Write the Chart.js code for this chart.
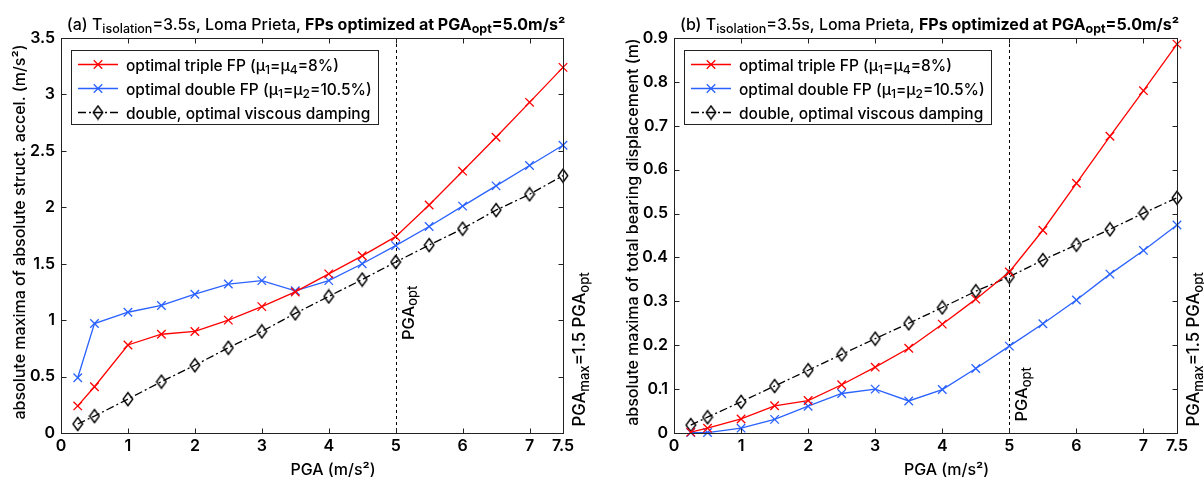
<!DOCTYPE html>
<html>
<head>
<meta charset="utf-8">
<script src="https://cdn.jsdelivr.net/npm/chart.js@4.4.1/dist/chart.umd.min.js"></script>
<style>
  html, body { margin: 0; padding: 0; background: #fff; }
  #wrap { position: relative; width: 1204px; height: 479px; }
  #left { position: absolute; left: 0; top: 0; }
  #right { position: absolute; left: 600px; top: 0; }
</style>
</head>
<body>
<div id="wrap">
  <canvas id="left" width="600" height="479"></canvas>
  <canvas id="right" width="604" height="479"></canvas>
</div>
<script>
// datos
const pga = [0.25, 0.5, 1, 1.5, 2, 2.5, 3, 3.5, 4, 4.5, 5, 5.5, 6, 6.5, 7, 7.5];

const accTriple  = [0.24, 0.41, 0.78, 0.875, 0.90, 1.00, 1.12, 1.25, 1.41, 1.57, 1.74, 2.02, 2.32, 2.62, 2.93, 3.24];
const accDouble  = [0.49, 0.97, 1.07, 1.13, 1.23, 1.32, 1.35, 1.26, 1.35, 1.50, 1.66, 1.83, 2.01, 2.19, 2.37, 2.55];
const accViscous = [0.08, 0.15, 0.30, 0.455, 0.60, 0.755, 0.90, 1.06, 1.21, 1.36, 1.515, 1.665, 1.81, 1.975, 2.115, 2.28];

const dispTriple  = [0.002, 0.011, 0.032, 0.062, 0.074, 0.110, 0.150, 0.193, 0.248, 0.305, 0.367, 0.462, 0.569, 0.676, 0.780, 0.886];
const dispDouble  = [0.001, 0.001, 0.011, 0.031, 0.061, 0.090, 0.100, 0.073, 0.099, 0.147, 0.198, 0.249, 0.303, 0.362, 0.416, 0.474];
const dispViscous = [0.018, 0.036, 0.071, 0.107, 0.143, 0.179, 0.215, 0.250, 0.286, 0.323, 0.356, 0.394, 0.429, 0.464, 0.501, 0.536];

const xTicks    = [0, 1, 2, 3, 4, 5, 6, 7, 7.5];
const accTicks  = [0, 0.5, 1, 1.5, 2, 2.5, 3, 3.5];
const dispTicks = [0, 0.1, 0.2, 0.3, 0.4, 0.5, 0.6, 0.7, 0.8, 0.9];

const PGA_OPT = 5;

const FONT = 'Inter, "Open Sans", sans-serif';
const W_TXT = '500 ';
const RED = '#ff0000';
const BLUE = '#2a62ff';
const FRAME = '#222222';

// marcador rombo (mas alto que ancho, como en matlab)
function makeDiamond() {
    const c = document.createElement('canvas');
    c.width = 12; c.height = 16;
    const g = c.getContext('2d');
    g.strokeStyle = '#000';
    g.lineWidth = 1.4;
    g.beginPath();
    g.moveTo(6, 1.5); g.lineTo(10.8, 8); g.lineTo(6, 14.5); g.lineTo(1.2, 8);
    g.closePath();
    g.stroke();
    return c;
}
const diamond = makeDiamond();

// texto con subindices / negrita
function drawRich(ctx, parts, x, y, size, measureOnly) {
    let cx = x;
    parts.forEach(p => {
        const small = p.sub || p.sup;
        const s = small ? size * 0.78 : size;
        ctx.font = (p.b ? 'bold ' : W_TXT) + s + 'px ' + FONT;
        const dy = p.sub ? size * 0.22 : (p.sup ? -size * 0.38 : 0);
        if (!measureOnly) ctx.fillText(p.t, cx, y + dy);
        cx += ctx.measureText(p.t).width;
    });
    return cx - x;
}

const legendParts = [
    [{t: 'optimal triple FP (\u03bc'}, {t: '1', sub: true}, {t: '=\u03bc'}, {t: '4', sub: true}, {t: '=8%)'}],
    [{t: 'optimal double FP (\u03bc'}, {t: '1', sub: true}, {t: '=\u03bc'}, {t: '2', sub: true}, {t: '=10.5%)'}],
    [{t: 'double, optimal viscous damping'}]
];

const decor = {
    id: 'decor',
    beforeDatasetsDraw(chart, args, o) {
        const {ctx, chartArea: a, scales: {x}} = chart;
        const px = Math.round(x.getPixelForValue(PGA_OPT)) + 0.5;
        ctx.save();
        ctx.strokeStyle = '#000';
        ctx.lineWidth = 1;
        ctx.setLineDash([3, 3]);
        ctx.beginPath();
        ctx.moveTo(px, a.top);
        ctx.lineTo(px, a.bottom);
        ctx.stroke();
        ctx.restore();
    },
    afterDraw(chart, args, o) {
        const {ctx, chartArea: a, scales: {x, y}} = chart;
        ctx.save();

        // caja y marcas hacia dentro
        ctx.strokeStyle = FRAME;
        ctx.lineWidth = 1;
        ctx.setLineDash([]);
        const L = Math.round(a.left) + 0.5, R = Math.round(a.right) + 0.5;
        const T = Math.round(a.top) + 0.5, B = Math.round(a.bottom) + 0.5;
        ctx.strokeRect(L, T, R - L, B - T);
        ctx.beginPath();
        x.ticks.forEach(t => {
            const px = Math.round(x.getPixelForValue(t.value)) + 0.5;
            ctx.moveTo(px, B); ctx.lineTo(px, B - 5);
            ctx.moveTo(px, T); ctx.lineTo(px, T + 5);
        });
        y.ticks.forEach(t => {
            const py = Math.round(y.getPixelForValue(t.value)) + 0.5;
            ctx.moveTo(L, py); ctx.lineTo(L + 5, py);
            ctx.moveTo(R, py); ctx.lineTo(R - 5, py);
        });
        ctx.stroke();

        ctx.fillStyle = '#000';
        ctx.textBaseline = 'alphabetic';
        ctx.textAlign = 'left';

        // titulo
        const tw = drawRich(ctx, o.title, 0, 0, 16, true);
        drawRich(ctx, o.title, (a.left + a.right) / 2 + 4 - tw / 2, 29.5, 16);

        // titulo eje x
        ctx.font = W_TXT + '16px ' + FONT;
        ctx.textAlign = 'center';
        ctx.fillText('PGA (m/s\u00b2)', (a.left + a.right) / 2 + 21, 475);

        // titulo eje y
        ctx.save();
        ctx.translate(a.left - 36, 232);
        ctx.rotate(-Math.PI / 2);
        ctx.fillText(o.yTitle, 0, 0);
        ctx.restore();
        ctx.textAlign = 'left';

        // PGA_opt
        const lx = x.getPixelForValue(PGA_OPT);
        ctx.save();
        ctx.translate(lx + 18, a.bottom - o.optLift);
        ctx.rotate(-Math.PI / 2);
        drawRich(ctx, [{t: 'PGA'}, {t: 'opt', sub: true}], 0, 0, 16.5);
        ctx.restore();

        // PGA_max
        ctx.save();
        ctx.translate(a.right + 22, a.bottom - 6.5);
        ctx.rotate(-Math.PI / 2);
        drawRich(ctx, [{t: 'PGA'}, {t: 'max', sub: true}, {t: '=1.5 PGA'}, {t: 'opt', sub: true}], 0, 0, 16.8);
        ctx.restore();

        // leyenda
        const bx = a.left + 10, by = a.top + 12;
        let maxW = 0;
        legendParts.forEach(p => { maxW = Math.max(maxW, drawRich(ctx, p, 0, 0, 15.5, true)); });
        const bw = 55 + maxW + 6, bh = 74;
        ctx.fillStyle = '#fff';
        ctx.fillRect(bx, by, bw, bh);
        ctx.strokeStyle = FRAME;
        ctx.lineWidth = 1;
        ctx.strokeRect(Math.round(bx) + 0.5, Math.round(by) + 0.5, Math.round(bw), bh);
        chart.data.datasets.forEach((ds, i) => {
            const ly = by + 14.5 + i * 24;
            ctx.strokeStyle = ds.borderColor;
            ctx.lineWidth = ds.borderWidth;
            ctx.setLineDash(ds.borderDash || []);
            ctx.beginPath();
            ctx.moveTo(bx + 7, ly); ctx.lineTo(bx + 47, ly);
            ctx.stroke();
            ctx.setLineDash([]);
            Chart.helpers.drawPoint(ctx, {pointStyle: ds.pointStyle, radius: ds.pointRadius, rotation: 0, borderWidth: ds.pointBorderWidth}, bx + 27, ly);
            ctx.fillStyle = '#000';
            drawRich(ctx, legendParts[i], bx + 55, ly + 6, 15.5);
        });

        ctx.restore();
    }
};

function series(label, values, color, style, dash) {
    return {
        label: label,
        data: pga.map((v, i) => ({x: v, y: values[i]})),
        borderColor: color,
        backgroundColor: color,
        borderWidth: 1.3,
        borderDash: dash,
        pointStyle: style,
        pointRadius: 6,
        pointBorderWidth: 1.3,
        pointBorderColor: color,
        pointBackgroundColor: 'rgba(0,0,0,0)',
        tension: 0,
        clip: false
    };
}

function makePanel(id, opt) {
    const tickFont = {family: FONT, size: 16, weight: '600'};
    return new Chart(document.getElementById(id), {
        type: 'line',
        data: {
            datasets: [
                series('optimal triple FP', opt.triple, RED, 'crossRot', []),
                series('optimal double FP', opt.double, BLUE, 'crossRot', []),
                series('double, optimal viscous damping', opt.viscous, '#000', diamond, [8, 3, 2, 3])
            ]
        },
        options: {
            responsive: false,
            animation: false,
            layout: {padding: {top: 38, right: opt.padRight, left: 0, bottom: 0}},
            plugins: {
                legend: {display: false},
                tooltip: {enabled: false},
                decor: {title: opt.title, yTitle: opt.yTitle, optLift: opt.optLift}
            },
            scales: {
                x: {
                    type: 'linear', min: 0, max: 7.5,
                    afterBuildTicks: s => { s.ticks = xTicks.map(v => ({value: v})); },
                    afterFit: s => { s.height = 46; },
                    grid: {display: false, drawTicks: false},
                    border: {display: false},
                    ticks: {font: tickFont, color: '#000', padding: 4, maxRotation: 0, autoSkip: false, callback: v => String(v)}
                },
                y: {
                    type: 'linear', min: 0, max: opt.yMax,
                    afterBuildTicks: s => { s.ticks = opt.yTicks.map(v => ({value: v})); },
                    afterFit: s => { s.width = opt.axisW; },
                    grid: {display: false, drawTicks: false},
                    border: {display: false},
                    ticks: {font: tickFont, color: '#000', padding: 6, autoSkip: false, callback: v => String(v)}
                }
            }
        },
        plugins: [decor]
    });
}

makePanel('left', {
    triple: accTriple, double: accDouble, viscous: accViscous,
    yMax: 3.5, yTicks: accTicks, axisW: 61, padRight: 37, optLift: 93,
    yTitle: 'absolute maxima of absolute struct. accel. (m/s\u00b2)',
    title: [{t: '(a) T'}, {t: 'isolation', sub: true}, {t: '=3.5s, Loma Prieta, '},
            {t: 'FPs optimized at PGA', b: true}, {t: 'opt', sub: true, b: true}, {t: '=5.0m/s\u00b2', b: true}]
});

makePanel('right', {
    triple: dispTriple, double: dispDouble, viscous: dispViscous,
    yMax: 0.9, yTicks: dispTicks, axisW: 74, padRight: 27, optLift: 11.5,
    yTitle: 'absolute maxima of total bearing displacement (m)',
    title: [{t: '(b) T'}, {t: 'isolation', sub: true}, {t: '=3.5s, Loma Prieta, '},
            {t: 'FPs optimized at PGA', b: true}, {t: 'opt', sub: true, b: true}, {t: '=5.0m/s\u00b2', b: true}]
});
</script>
</body>
</html>
